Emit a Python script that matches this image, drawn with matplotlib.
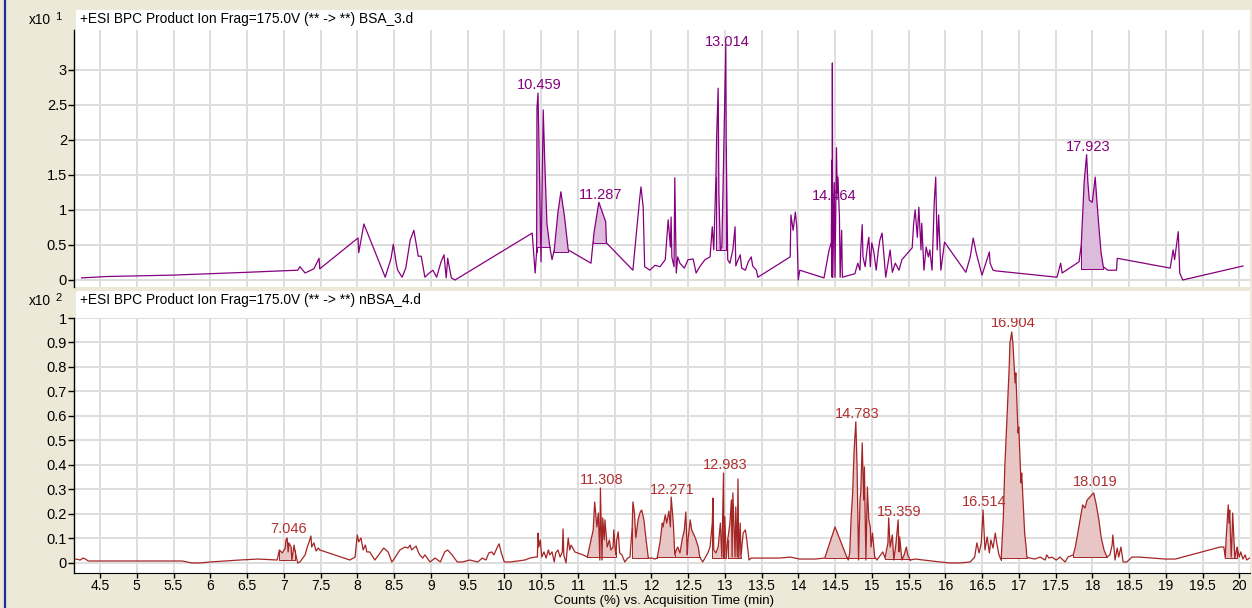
import numpy as np
import matplotlib
matplotlib.use("Agg")
import matplotlib.pyplot as plt
from matplotlib.patches import Rectangle
from matplotlib.lines import Line2D

plt.rcParams['font.family'] = ['Liberation Sans', 'DejaVu Sans']

# BSA_3.d  (counts x10^1)
top_time = [4.25, 4.60, 5.50, 6.50, 7.19, 7.22, 7.29, 7.41, 7.48, 7.49,
            8.01, 8.02, 8.09, 8.38, 8.46, 8.49, 8.53, 8.55, 8.61, 8.66,
            8.72, 8.77, 8.83, 8.87, 8.92, 8.98, 9.03, 9.08, 9.14, 9.18,
            9.21, 9.23, 9.28, 9.33, 10.38, 10.42, 10.44, 10.445, 10.459, 10.47,
            10.50, 10.53, 10.55, 10.58, 10.62, 10.65, 10.68, 10.73, 10.77, 10.82,
            10.87, 11.18, 11.22, 11.287, 11.38, 11.39, 11.75, 11.84, 11.86, 11.89,
            11.91, 11.94, 11.98, 12.05, 12.12, 12.19, 12.23, 12.26, 12.27, 12.28,
            12.31, 12.32, 12.34, 12.36, 12.39, 12.45, 12.50, 12.57, 12.61, 12.66,
            12.73, 12.80, 12.83, 12.85, 12.88, 12.89, 12.91, 12.92, 12.94, 12.96,
            12.98, 13.014, 13.02, 13.04, 13.07, 13.11, 13.14, 13.15, 13.17, 13.21,
            13.23, 13.28, 13.32, 13.36, 13.38, 13.43, 13.45, 13.89, 13.90, 13.93,
            13.96, 13.98, 14.00, 14.02, 14.35, 14.42, 14.45, 14.455, 14.46, 14.464,
            14.47, 14.49, 14.50, 14.52, 14.53, 14.54, 14.56, 14.57, 14.59, 14.60,
            14.70, 14.77, 14.81, 14.84, 14.85, 14.87, 14.88, 14.91, 14.94, 14.96,
            14.98, 15.00, 15.03, 15.06, 15.09, 15.11, 15.14, 15.17, 15.19, 15.22,
            15.25, 15.28, 15.32, 15.37, 15.41, 15.55, 15.57, 15.59, 15.62, 15.64,
            15.67, 15.68, 15.71, 15.74, 15.77, 15.79, 15.82, 15.85, 15.87, 15.89,
            15.91, 15.94, 15.99, 16.28, 16.34, 16.38, 16.42, 16.50, 16.60, 16.61,
            16.65, 16.69, 17.52, 17.57, 17.59, 17.82, 17.85, 17.87, 17.89, 17.923,
            17.94, 17.96, 18.00, 18.04, 18.06, 18.09, 18.12, 18.15, 18.21, 18.33,
            18.34, 19.06, 19.10, 19.12, 19.17, 19.19, 19.23, 20.01, 20.05]
top_count = [0.03, 0.05, 0.07, 0.11, 0.14, 0.19, 0.10, 0.16, 0.31, 0.16,
             0.60, 0.39, 0.80, 0.04, 0.31, 0.51, 0.24, 0.14, 0.04, 0.17,
             0.57, 0.71, 0.34, 0.34, 0.04, 0.10, 0.14, 0.04, 0.26, 0.36,
             0.03, 0.31, 0.03, 0.00, 0.67, 0.10, 0.40, 2.46, 2.67, 2.07,
             0.26, 2.43, 1.71, 0.81, 0.47, 0.29, 0.43, 0.96, 1.26, 0.90,
             0.43, 0.24, 0.67, 1.11, 0.83, 0.53, 0.14, 1.14, 1.33, 1.04,
             0.19, 0.17, 0.14, 0.21, 0.19, 0.29, 0.86, 0.47, 0.90, 0.33,
             0.19, 1.46, 0.10, 0.33, 0.24, 0.17, 0.29, 0.30, 0.10, 0.19,
             0.29, 0.33, 0.76, 0.43, 1.47, 2.07, 2.74, 1.24, 0.43, 0.47,
             1.50, 3.36, 1.90, 0.29, 0.24, 0.43, 0.76, 0.20, 0.26, 0.36,
             0.17, 0.14, 0.26, 0.33, 0.20, 0.14, 0.04, 0.33, 0.93, 0.71,
             0.97, 0.76, 0.00, 0.14, 0.03, 0.43, 0.54, 1.71, 0.04, 3.10,
             0.04, 1.39, 0.04, 1.89, 1.24, 1.47, 0.90, 0.04, 0.71, 0.04,
             0.07, 0.09, 0.24, 0.14, 0.43, 0.79, 0.33, 0.19, 0.47, 0.61,
             0.19, 0.53, 0.39, 0.14, 0.43, 0.57, 0.67, 0.29, 0.04, 0.24,
             0.43, 0.11, 0.24, 0.14, 0.29, 0.46, 0.81, 1.00, 0.61, 1.04,
             0.43, 0.81, 0.14, 0.47, 0.33, 0.43, 0.14, 1.11, 1.47, 0.43,
             0.93, 0.14, 0.54, 0.11, 0.33, 0.60, 0.39, 0.07, 0.40, 0.24,
             0.14, 0.13, 0.04, 0.24, 0.10, 0.26, 0.50, 0.96, 1.40, 1.79,
             1.40, 1.14, 1.11, 1.47, 1.17, 0.76, 0.39, 0.19, 0.14, 0.14,
             0.31, 0.17, 0.43, 0.29, 0.69, 0.10, 0.00, 0.19, 0.20]

# integrated peaks: start, end, baseline
top_peaks = [(10.44, 10.62, 0.47), (10.68, 10.87, 0.40), (11.21, 11.39, 0.53),
             (12.88, 13.02, 0.43), (17.85, 18.15, 0.15)]
top_labels = ["10.459", "11.287", "13.014", "14.464", "17.923"]
top_label_pos = [(10.459, 2.68), (11.287, 1.12), (13.014, 3.30), (14.464, 1.10), (17.923, 1.80)]

# nBSA_4.d  (counts x10^2)
bot_time = [4.17, 4.23, 4.27, 4.30, 4.34, 5.62, 5.75, 5.86, 6.00, 6.40,
            6.65, 6.91, 6.94, 6.98, 7.02, 7.03, 7.046, 7.06, 7.07, 7.10,
            7.11, 7.14, 7.15, 7.18, 7.19, 7.22, 7.29, 7.32, 7.34, 7.37,
            7.38, 7.41, 7.44, 7.47, 7.49, 7.90, 7.97, 8.00, 8.02, 8.05,
            8.08, 8.11, 8.13, 8.17, 8.24, 8.31, 8.36, 8.42, 8.47, 8.51,
            8.58, 8.65, 8.69, 8.72, 8.74, 8.77, 8.80, 8.83, 8.85, 8.89,
            8.92, 8.99, 9.06, 9.13, 9.19, 9.23, 9.29, 9.36, 9.43, 9.53,
            9.64, 9.70, 9.75, 9.79, 9.83, 9.86, 9.90, 9.93, 9.96, 10.00,
            10.08, 10.28, 10.35, 10.42, 10.45, 10.46, 10.47, 10.49, 10.51, 10.54,
            10.57, 10.60, 10.62, 10.65, 10.68, 10.70, 10.73, 10.76, 10.79, 10.80,
            10.81, 10.84, 10.87, 10.89, 10.91, 10.96, 11.07, 11.13, 11.21, 11.23,
            11.26, 11.28, 11.30, 11.308, 11.33, 11.34, 11.36, 11.37, 11.40, 11.43,
            11.45, 11.48, 11.49, 11.51, 11.52, 11.53, 11.55, 11.57, 11.60, 11.64,
            11.68, 11.71, 11.74, 11.75, 11.77, 11.79, 11.82, 11.85, 11.87, 11.90,
            11.93, 11.96, 12.01, 12.05, 12.08, 12.12, 12.15, 12.16, 12.19, 12.21,
            12.24, 12.26, 12.271, 12.30, 12.31, 12.32, 12.34, 12.36, 12.39, 12.42,
            12.45, 12.47, 12.49, 12.50, 12.53, 12.55, 12.60, 12.64, 12.66, 12.70,
            12.73, 12.77, 12.80, 12.83, 12.84, 12.85, 12.88, 12.91, 12.94, 12.96,
            12.983, 12.99, 13.00, 13.02, 13.04, 13.07, 13.09, 13.10, 13.11, 13.14,
            13.15, 13.17, 13.18, 13.19, 13.21, 13.22, 13.25, 13.28, 13.30, 13.33,
            13.36, 13.48, 13.75, 13.89, 14.02, 14.23, 14.36, 14.50, 14.66, 14.68,
            14.70, 14.72, 14.74, 14.76, 14.77, 14.783, 14.80, 14.82, 14.84, 14.85,
            14.87, 14.89, 14.90, 14.92, 14.94, 14.96, 14.98, 14.99, 15.01, 15.04,
            15.07, 15.15, 15.18, 15.22, 15.23, 15.25, 15.28, 15.30, 15.33, 15.359,
            15.37, 15.38, 15.41, 15.44, 15.47, 15.49, 15.52, 15.59, 15.93, 16.06,
            16.20, 16.34, 16.40, 16.43, 16.46, 16.49, 16.514, 16.54, 16.57, 16.60,
            16.62, 16.65, 16.68, 16.70, 16.73, 16.76, 16.79, 16.81, 16.84, 16.87,
            16.88, 16.904, 16.92, 16.95, 16.96, 16.99, 17.00, 17.03, 17.04, 17.07,
            17.08, 17.10, 17.11, 17.15, 17.22, 17.29, 17.36, 17.38, 17.41, 17.45,
            17.51, 17.56, 17.63, 17.67, 17.74, 17.77, 17.81, 17.85, 17.87, 17.90,
            17.93, 17.97, 18.019, 18.05, 18.09, 18.12, 18.16, 18.20, 18.24, 18.27,
            18.28, 18.31, 18.34, 18.36, 18.39, 18.42, 18.47, 18.54, 18.65, 18.99,
            19.13, 19.74, 19.79, 19.81, 19.82, 19.85, 19.86, 19.87, 19.89, 19.90,
            19.91, 19.94, 19.97, 20.00, 20.02, 20.05, 20.08, 20.10, 20.14]
bot_count = [0.016, 0.012, 0.020, 0.016, 0.008, 0.008, 0.000, 0.000, 0.004, 0.012,
             0.016, 0.012, 0.053, 0.041, 0.061, 0.094, 0.102, 0.045, 0.082, 0.065,
             0.012, 0.073, 0.053, 0.012, 0.000, 0.004, 0.033, 0.065, 0.082, 0.110,
             0.065, 0.082, 0.049, 0.061, 0.053, 0.012, 0.024, 0.114, 0.086, 0.102,
             0.053, 0.073, 0.045, 0.045, 0.012, 0.041, 0.061, 0.045, 0.004, 0.020,
             0.053, 0.065, 0.061, 0.073, 0.053, 0.061, 0.069, 0.045, 0.033, 0.020,
             0.033, 0.004, 0.020, 0.004, 0.045, 0.053, 0.033, 0.004, 0.004, 0.012,
             0.004, 0.020, 0.012, 0.041, 0.045, 0.033, 0.061, 0.078, 0.041, 0.004,
             0.004, 0.012, 0.020, 0.024, 0.024, 0.122, 0.065, 0.094, 0.024, 0.045,
             0.020, 0.053, 0.033, 0.045, 0.004, 0.041, 0.053, 0.024, 0.045, 0.139,
             0.033, 0.000, 0.102, 0.053, 0.073, 0.045, 0.033, 0.024, 0.135, 0.249,
             0.147, 0.204, 0.012, 0.306, 0.012, 0.184, 0.094, 0.176, 0.065, 0.094,
             0.053, 0.065, 0.135, 0.053, 0.033, 0.094, 0.127, 0.041, 0.033, 0.004,
             0.020, 0.024, 0.143, 0.249, 0.208, 0.102, 0.176, 0.208, 0.216, 0.176,
             0.094, 0.020, 0.020, 0.016, 0.020, 0.086, 0.163, 0.147, 0.196, 0.163,
             0.212, 0.147, 0.269, 0.163, 0.094, 0.033, 0.053, 0.065, 0.041, 0.094,
             0.135, 0.208, 0.033, 0.094, 0.176, 0.135, 0.102, 0.065, 0.024, 0.004,
             0.020, 0.041, 0.065, 0.163, 0.265, 0.053, 0.041, 0.065, 0.163, 0.024,
             0.367, 0.020, 0.188, 0.020, 0.094, 0.163, 0.257, 0.024, 0.286, 0.024,
             0.229, 0.024, 0.343, 0.020, 0.163, 0.024, 0.122, 0.135, 0.094, 0.012,
             0.020, 0.020, 0.020, 0.024, 0.016, 0.016, 0.020, 0.147, 0.024, 0.012,
             0.041, 0.188, 0.286, 0.461, 0.514, 0.576, 0.392, 0.012, 0.257, 0.286,
             0.490, 0.257, 0.392, 0.012, 0.310, 0.176, 0.147, 0.065, 0.122, 0.024,
             0.012, 0.045, 0.020, 0.082, 0.184, 0.065, 0.114, 0.012, 0.082, 0.176,
             0.045, 0.106, 0.012, 0.033, 0.065, 0.033, 0.012, 0.016, 0.004, 0.000,
             0.000, 0.004, 0.024, 0.082, 0.041, 0.082, 0.216, 0.053, 0.106, 0.041,
             0.094, 0.061, 0.122, 0.082, 0.033, 0.012, 0.188, 0.392, 0.596, 0.800,
             0.898, 0.943, 0.898, 0.735, 0.776, 0.531, 0.555, 0.327, 0.367, 0.188,
             0.122, 0.065, 0.024, 0.020, 0.016, 0.024, 0.012, 0.033, 0.020, 0.024,
             0.012, 0.024, 0.004, 0.024, 0.033, 0.065, 0.135, 0.204, 0.237, 0.224,
             0.257, 0.270, 0.286, 0.245, 0.176, 0.106, 0.053, 0.024, 0.033, 0.073,
             0.114, 0.012, 0.061, 0.024, 0.065, 0.004, 0.004, 0.024, 0.024, 0.016,
             0.016, 0.065, 0.065, 0.020, 0.094, 0.237, 0.163, 0.216, 0.024, 0.094,
             0.204, 0.020, 0.065, 0.024, 0.045, 0.016, 0.033, 0.012, 0.020]

bot_peaks = [(6.94, 7.15, 0.012), (11.13, 11.52, 0.024), (11.74, 11.96, 0.020),
             (12.08, 12.32, 0.024), (12.32, 12.66, 0.024), (12.83, 13.02, 0.020),
             (13.04, 13.22, 0.020), (14.36, 14.66, 0.020), (14.66, 15.04, 0.020),
             (15.18, 15.52, 0.016), (16.76, 17.11, 0.020), (17.74, 18.20, 0.024),
             (19.81, 19.97, 0.020)]
bot_labels = ["7.046", "11.308", "12.271", "12.983", "14.783", "15.359", "16.514", "16.904", "18.019"]
bot_label_pos = [(7.046, 0.11), (11.308, 0.31), (12.271, 0.27), (12.983, 0.37), (14.783, 0.58),
                 (15.359, 0.18), (16.514, 0.22), (16.904, 0.95), (18.019, 0.30)]

x_ticks = np.arange(4.5, 20.01, 0.5)
top_yticks = [0, 0.5, 1, 1.5, 2, 2.5, 3]
bot_yticks = [0, 0.1, 0.2, 0.3, 0.4, 0.5, 0.6, 0.7, 0.8, 0.9, 1]

BG = '#ECE9D8'
GRID = '#DEDEDE'
W, H = 1252, 608
FS = 10.5


def fx(px):
    return px / W


def fy(py):
    return 1 - py / H


def tick_fmt(v):
    return ('%g' % v)


def shade(ax, t, c, peaks, line, face):
    t = np.asarray(t)
    c = np.asarray(c)
    for t0, t1, base in peaks:
        m = (t > t0) & (t < t1)
        xs = [t0, t0] + list(t[m]) + [t1, t1]
        ys = [base, np.interp(t0, t, c)] + list(c[m]) + [np.interp(t1, t, c), base]
        ax.fill(xs, ys, facecolor=face, edgecolor='none', zorder=2)
        ax.plot([t0, t0, t1, t1], [ys[1], base, base, ys[-2]], color=line, lw=0.7, zorder=2)


def setup(ax, ylim, yticks):
    ax.set_facecolor('white')
    ax.set_xlim(4.146, 20.146)
    ax.set_ylim(*ylim)
    ax.set_xticks(x_ticks)
    ax.set_yticks(yticks)
    ax.set_yticklabels([tick_fmt(v) for v in yticks], fontsize=FS)
    ax.grid(True, color=GRID, lw=1.4, zorder=0)
    ax.set_axisbelow(True)
    for s in ['top', 'right']:
        ax.spines[s].set_visible(False)
    ax.spines['left'].set_color('black')
    ax.spines['left'].set_linewidth(1.0)
    ax.tick_params(axis='y', direction='out', length=4, width=1, pad=1)


fig = plt.figure(figsize=(W / 100, H / 100), dpi=100)
fig.patch.set_facecolor(BG)

# header strips
for y0, y1 in [(10, 30), (291, 318)]:
    fig.patches.append(Rectangle((fx(76), fy(y1)), fx(1250) - fx(76), (y1 - y0) / H,
                                 transform=fig.transFigure, facecolor='white', edgecolor='none', zorder=0))
fig.add_artist(Line2D([fx(5), fx(5)], [0, 1], color='#1F2FA0', lw=1.6))

# top chromatogram
ax1 = fig.add_axes([fx(74), fy(287), fx(1250) - fx(74), (287 - 30) / H])
setup(ax1, (-0.1, 3.571), top_yticks)
ax1.spines['bottom'].set_visible(False)
ax1.tick_params(axis='x', length=0, labelbottom=False)
shade(ax1, top_time, top_count, top_peaks, '#85007F', '#DDBBDD')
ax1.plot(top_time, top_count, color='#85007F', lw=0.9, zorder=3)
for lab, (t, y) in zip(top_labels, top_label_pos):
    ax1.annotate(lab, (t, y), xytext=(1, 0), textcoords='offset points',
                 ha='center', va='bottom', fontsize=FS, color='#85007F', zorder=4)

# bottom chromatogram
ax2 = fig.add_axes([fx(74), fy(573), fx(1250) - fx(74), (573 - 318) / H])
setup(ax2, (-0.041, 1.0), bot_yticks)
ax2.spines['bottom'].set_color('black')
ax2.tick_params(axis='x', direction='out', length=3.5, width=1, pad=0.5, labelsize=10)
ax2.set_xticklabels([tick_fmt(v) for v in x_ticks])
shade(ax2, bot_time, bot_count, bot_peaks, '#A52525', '#E8C6C6')
ax2.plot(bot_time, bot_count, color='#A52525', lw=0.9, zorder=3)
for lab, (t, y) in zip(bot_labels, bot_label_pos):
    ax2.annotate(lab, (t, y), xytext=(1, 0), textcoords='offset points',
                 ha='center', va='bottom', fontsize=FS, color='#B03030', zorder=4)

# panel titles and scale factors
fig.text(fx(80), fy(19), '+ESI BPC Product Ion Frag=175.0V (** -> **) BSA_3.d', fontsize=9.9, va='center')
fig.text(fx(80), fy(300), '+ESI BPC Product Ion Frag=175.0V (** -> **) nBSA_4.d', fontsize=9.9, va='center')
fig.text(fx(51), fy(20), 'x10', fontsize=9.9, ha='right', va='center')
fig.text(fx(55), fy(17), '1', fontsize=8, ha='left', va='center')
fig.text(fx(51), fy(301), 'x10', fontsize=9.9, ha='right', va='center')
fig.text(fx(55), fy(298), '2', fontsize=8, ha='left', va='center')
fig.text(fx(664), fy(601), 'Counts (%) vs. Acquisition Time (min)', fontsize=9.5, ha='center', va='center')

fig.savefig('out.png', dpi=100, facecolor=BG)
